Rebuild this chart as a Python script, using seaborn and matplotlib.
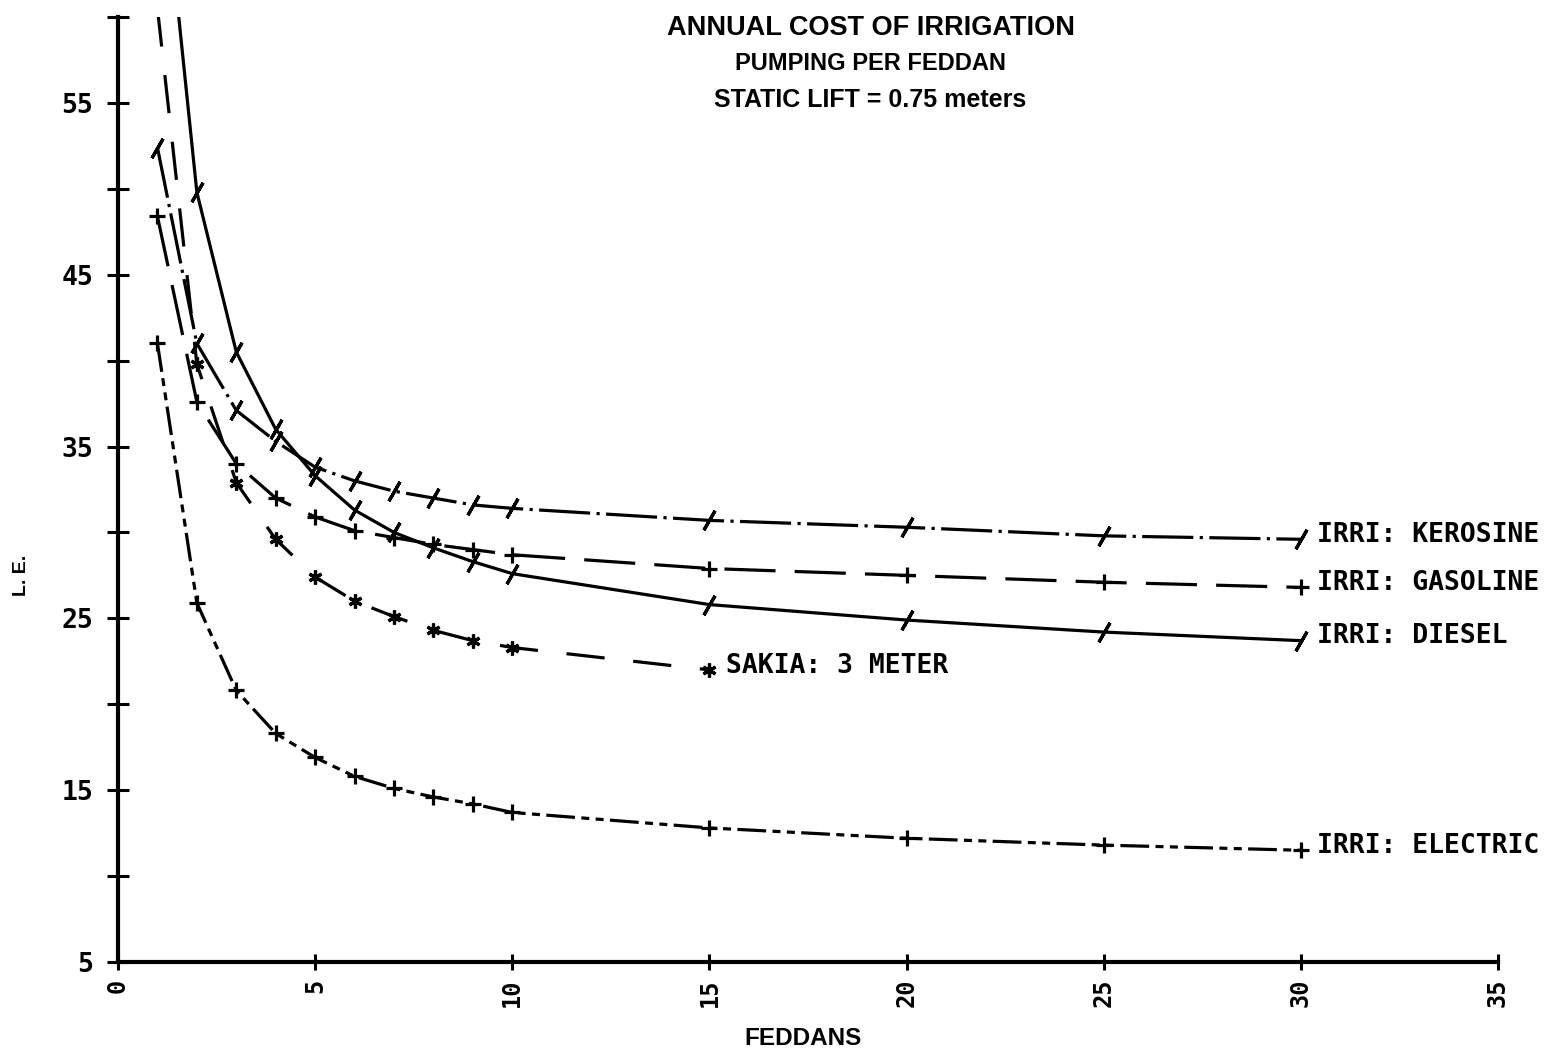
import numpy as np
import pandas as pd
import matplotlib
matplotlib.use("Agg")
import matplotlib.pyplot as plt
import seaborn as sns

# data (L.E. per feddan)
feddans = [1, 2, 3, 4, 5, 6, 7, 8, 9, 10, 15, 20, 25, 30]
kerosine = [52.4, 41.0, 37.1, 35.3, 33.8, 33.0, 32.4, 32.0, 31.6, 31.4, 30.7, 30.3, 29.8, 29.6]
gasoline = [48.4, 37.6, 34.0, 32.0, 30.9, 30.1, 29.7, 29.3, 29.0, 28.7, 27.9, 27.5, 27.1, 26.8]
diesel = [72.0, 49.8, 40.5, 36.0, 33.3, 31.3, 30.0, 29.1, 28.3, 27.6, 25.8, 24.9, 24.2, 23.7]
electric = [41.0, 25.9, 20.8, 18.3, 16.9, 15.8, 15.1, 14.6, 14.2, 13.7, 12.8, 12.2, 11.8, 11.5]
sakia_feddans = [1, 2, 3, 4, 5, 6, 7, 8, 9, 10, 15]
sakia = [60.5, 39.8, 32.9, 29.6, 27.4, 26.0, 25.1, 24.3, 23.7, 23.3, 22.0]

labels = ["IRRI: KEROSINE", "IRRI: GASOLINE", "IRRI: DIESEL", "SAKIA: 3 METER", "IRRI: ELECTRIC"]
x_ticks = [0, 5, 10, 15, 20, 25, 30, 35]
y_labels = [5, 15, 25, 35, 45, 55]

sns.set_style("ticks", {"axes.edgecolor": "black", "text.color": "black",
                        "xtick.color": "black", "ytick.color": "black"})

fig = plt.figure(figsize=(15.63, 10.55), dpi=100)
ax = fig.add_axes([0.0755, 0.0882, 0.8829, 0.8957])

slash = (2, 2, -30)
series = [
    (feddans, kerosine, (0, (16, 2, 1, 2)), slash, 16),
    (feddans, gasoline, (0, (16, 6)), "+", 11),
    (feddans, diesel, "-", slash, 16),
    (sakia_feddans, sakia, (0, (12, 9)), (6, 2, 0), 10),
    (feddans, electric, (0, (9, 2, 2.5, 2, 2.5, 2)), "+", 11),
]

for xs, ys, ls, mk, ms in series:
    df = pd.DataFrame({"feddans": xs, "cost": ys})
    sns.lineplot(data=df, x="feddans", y="cost", ax=ax, color="black",
                 linewidth=2.3, linestyle=ls, marker=mk, markersize=ms,
                 markeredgewidth=2.3, markeredgecolor="black", errorbar=None)

# end-of-line labels
ends = [(feddans[-1], kerosine[-1]), (feddans[-1], gasoline[-1]),
        (feddans[-1], diesel[-1]), (sakia_feddans[-1], sakia[-1]),
        (feddans[-1], electric[-1])]
for (x, y), lab in zip(ends, labels):
    ax.text(x + 0.42, y + 0.25, lab, fontsize=19, fontweight="bold",
            family="DejaVu Sans Mono", va="center", ha="left", clip_on=False)

ax.set_xlim(0, 35)
ax.set_ylim(5, 60)
ax.set_xticks(x_ticks)
ax.set_xticklabels([str(v) for v in x_ticks], rotation=90, fontsize=17,
                   fontweight="bold", family="DejaVu Sans Mono")
ax.set_yticks(np.arange(5, 61, 5))
ax.set_yticklabels([str(v) if v in y_labels else "" for v in np.arange(5, 61, 5)],
                   fontsize=19, fontweight="bold", family="DejaVu Sans Mono")
ax.tick_params(axis="y", direction="inout", length=16, width=2.2, pad=10)
ax.tick_params(axis="x", direction="inout", length=12, width=2.2, pad=6)
ax.set_xlabel("")
ax.set_ylabel("")
sns.despine(ax=ax)
for side in ["left", "bottom"]:
    ax.spines[side].set_linewidth(3)

fig.text(0.557, 0.9735, "ANNUAL COST OF IRRIGATION", ha="center", va="center",
         fontsize=19.5, fontweight="bold", family="Liberation Sans")
fig.text(0.557, 0.940, "PUMPING PER FEDDAN", ha="center", va="center",
         fontsize=17, fontweight="bold", family="Liberation Sans")
fig.text(0.557, 0.905, "STATIC LIFT = 0.75 meters", ha="center", va="center",
         fontsize=18, fontweight="bold", family="Liberation Sans")
fig.text(0.514, 0.016, "FEDDANS", ha="center", va="center",
         fontsize=17.5, fontweight="bold", family="Liberation Sans")
fig.text(0.014, 0.455, "L. E.", ha="center", va="center", rotation=90,
         fontsize=14, fontweight="bold", family="Liberation Sans")

fig.savefig("out.png", dpi=100, facecolor="white")
